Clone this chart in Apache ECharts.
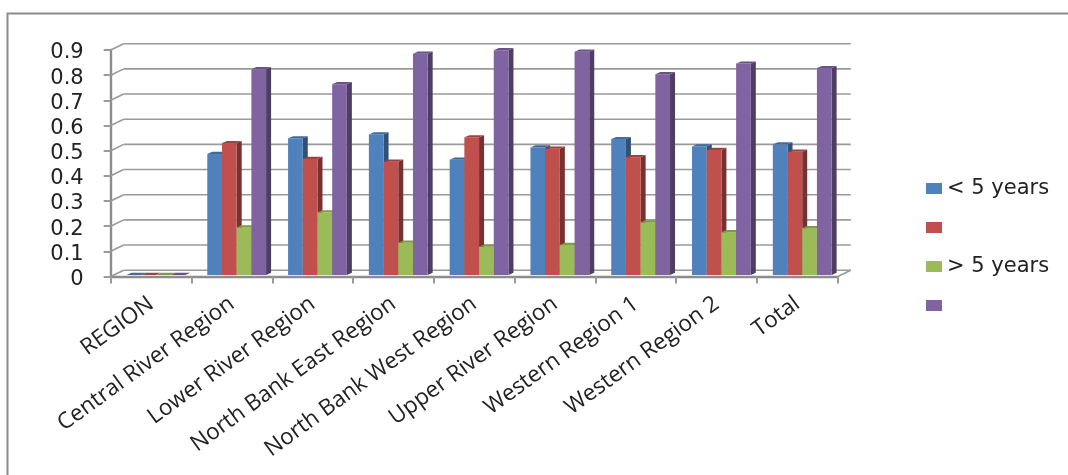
<!DOCTYPE html>
<html><head><meta charset="utf-8">
<style>html,body{margin:0;padding:0;background:#fff}#c{width:1068px;height:475px}</style>
<script src="https://cdn.jsdelivr.net/npm/echarts@6/dist/echarts.min.js"></script>
</head><body><div id="c"></div>
<script>
const categories = ['REGION','Central River Region','Lower River Region','North Bank East Region','North Bank West Region','Upper River Region','Western Region 1','Western Region 2','Total'];
const under5 = [0,0.487,0.549,0.564,0.464,0.513,0.546,0.517,0.525];
const series2 = [0,0.53,0.467,0.456,0.553,0.508,0.474,0.503,0.496];
const over5 = [0,0.195,0.255,0.134,0.118,0.125,0.215,0.176,0.192];
const series4 = [0,0.824,0.764,0.885,0.899,0.893,0.804,0.846,0.828];
const yTicks = [0,0.1,0.2,0.3,0.4,0.5,0.6,0.7,0.8,0.9];
const seriesNames = ['< 5 years',' ','> 5 years','  '];
const colors = ['#4F81BD','#C0504D','#9BBB59','#8064A2'];

const GRID='#9a9a9a', DX=13, DY=6.3;
const chart = echarts.init(document.getElementById('c'));

function shade(col,f){
  const p=echarts.color.parse(col);
  return 'rgb('+Math.round(p[0]*f)+','+Math.round(p[1]*f)+','+Math.round(p[2]*f)+')';
}
function wall(params, api){
  const v=api.value(0);
  const band=api.size([1,0])[0];
  const L=api.coord([0,v]), R=api.coord([categories.length-1,v]);
  const xl=L[0]-band/2, xr=R[0]+band/2, y=L[1];
  const ln=(a,b,c,d)=>({type:'line',shape:{x1:a,y1:b,x2:c,y2:d},style:{stroke:GRID,lineWidth:1.6}});
  const kids=[ln(xl,y,xl+DX,y-DY), ln(xl+DX,y-DY,xr+DX,y-DY)];
  if(v===0) kids.push(ln(xr,y,xr+DX,y-DY));
  return {type:'group',children:kids};
}
function bar3d(idx){
  return function(params, api){
    const i=api.value(0), v=api.value(1);
    const band=api.size([1,0])[0];
    const w=14.7, sx=5, sy=2.2, lift=1.5;
    const c=api.coord([i,v]);
    const base=api.coord([i,0])[1]-lift;
    const x=c[0]-band/2+15.8+idx*w;
    const top=Math.min(c[1],base);
    const col=colors[idx];
    const side=shade(col,0.62), cap=shade(col,0.82);
    const kids=[];
    if(v>0){
      kids.push({type:'polygon',shape:{points:[[x+w,top],[x+w+sx,top-sy],[x+w+sx,base-sy],[x+w,base]]},style:{fill:side}});
      kids.push({type:'rect',shape:{x:x,y:top,width:w,height:base-top},style:{fill:col}});
    }
    kids.push({type:'polygon',shape:{points:[[x,top],[x+w,top],[x+w+sx,top-sy],[x+sx,top-sy]]},style:{fill:cap}});
    return {type:'group',children:kids};
  };
}
const barSeries=[under5,series2,over5,series4].map((vals,k)=>({
  type:'custom',name:seriesNames[k],renderItem:bar3d(k),clip:false,z:3,
  encode:{x:0,y:1},
  itemStyle:{color:colors[k]},
  data:vals.map((v,i)=>[i,v])
}));
chart.setOption({
  animation:false,
  color:colors,
  backgroundColor:'#fff',
  grid:{left:110.7,right:230.2,top:50,bottom:198.5},
  graphic:[{type:'polyline',silent:true,shape:{points:[[7.5,475],[7.5,13.5],[1068,13.5]]},style:{fill:'none',stroke:'#8a8a8a',lineWidth:2}}],
  legend:{show:true,orient:'vertical',left:921,top:173,icon:'rect',itemWidth:16,itemHeight:11,itemGap:18,
    data:seriesNames,selectedMode:false,
    textStyle:{fontFamily:'DejaVu Sans',fontSize:21,color:'#222'},itemStyle:{borderWidth:0}},
  xAxis:{type:'category',data:categories,
    axisLine:{lineStyle:{color:'#8c8c8c',width:2.4}},
    axisTick:{show:true,length:7,lineStyle:{color:'#9a9a9a',width:2}},
    splitLine:{show:false},
    axisLabel:{rotate:36,interval:0,margin:25,fontFamily:'Open Sans',fontSize:22.5,color:'#222'}},
  yAxis:{type:'value',min:0,max:0.9,interval:0.1,
    axisLine:{show:true,lineStyle:{color:'#8c8c8c',width:2.4}},
    axisTick:{show:true,length:7,lineStyle:{color:'#9a9a9a',width:2}},
    splitLine:{show:false},
    axisLabel:{margin:27,fontFamily:'DejaVu Sans',fontSize:21,color:'#222',verticalAlign:'top',lineHeight:6}},
  series:[{type:'custom',name:'wall',silent:true,renderItem:wall,clip:false,z:1,encode:{y:0},data:yTicks.map(v=>[v])}].concat(barSeries)
});
</script></body></html>
